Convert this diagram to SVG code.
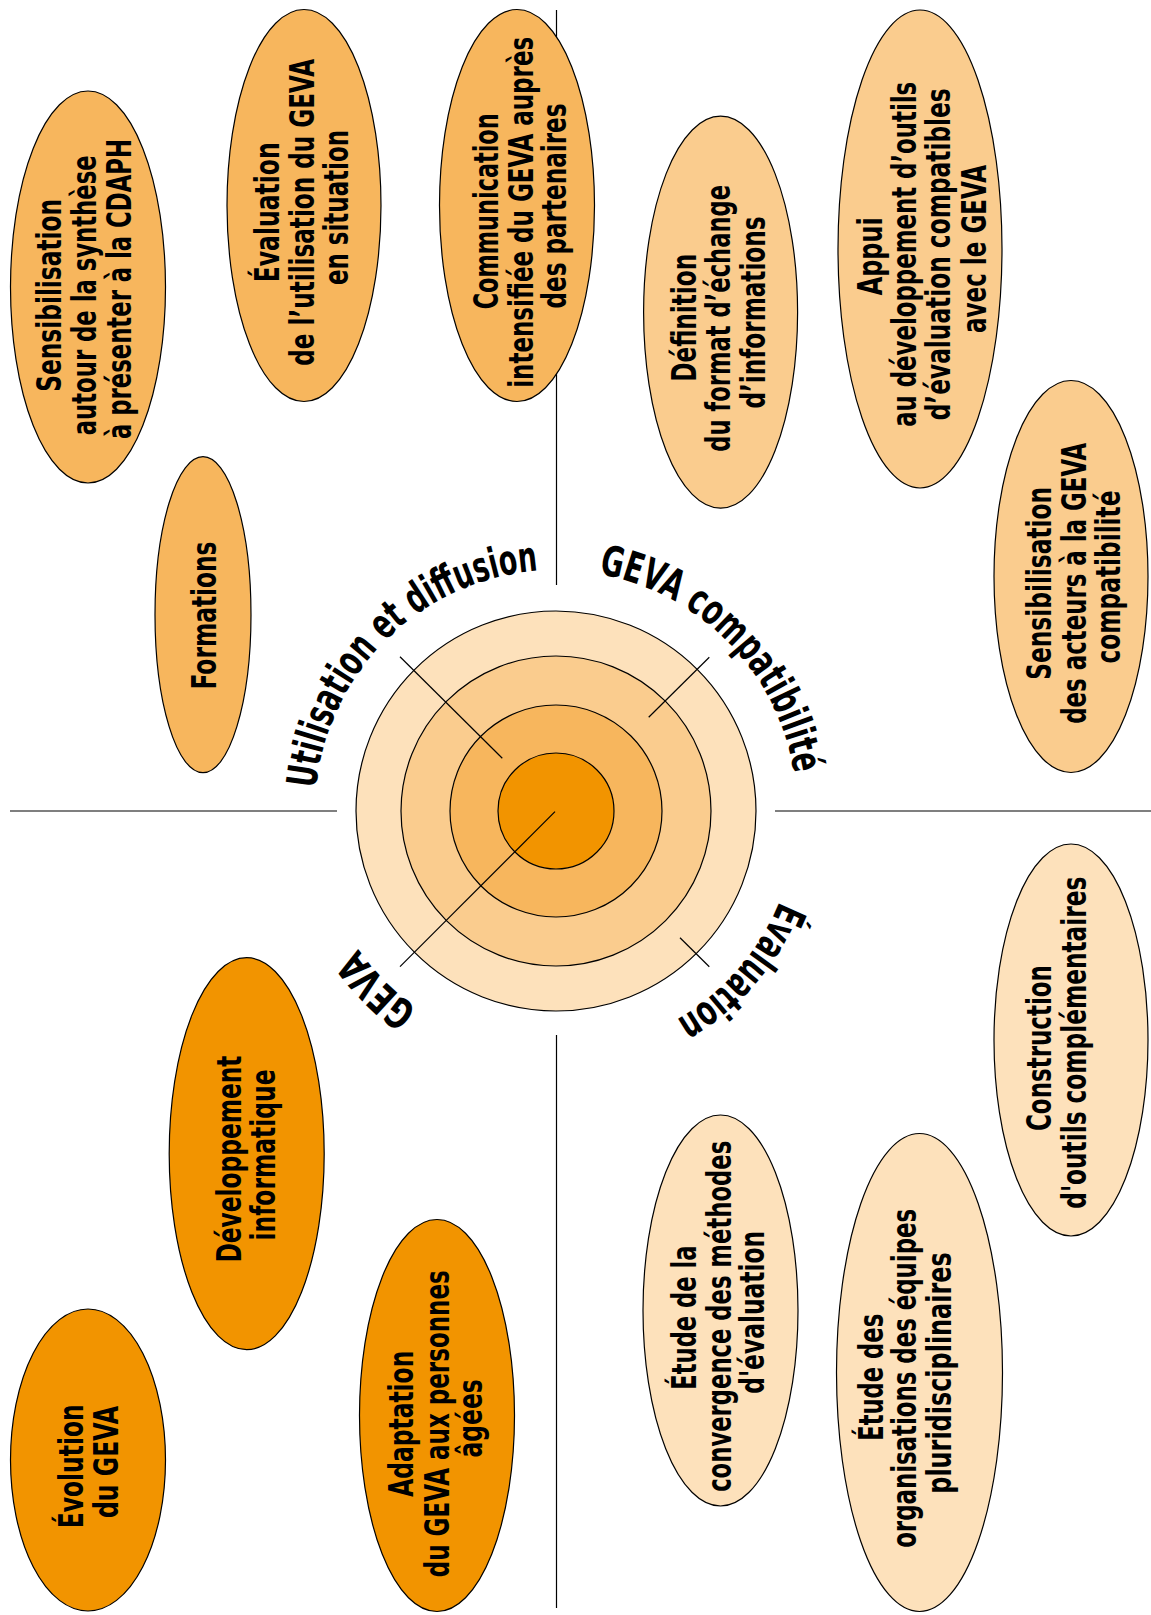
<svg xmlns="http://www.w3.org/2000/svg" width="1151" height="1615" viewBox="0 0 1151 1615">
<style>
.c1{fill:#F29400}.c2{fill:#F7B65D}.c3{fill:#FACC8E}.c4{fill:#FDE1BB}
.n{stroke:#000;stroke-width:1.2}
.ln{stroke:#000;stroke-width:1.2;fill:none}
.t{font-family:'Liberation Sans Narrow','DejaVu Sans Condensed','Liberation Sans',sans-serif;font-weight:bold;font-size:34px;fill:#000;text-anchor:middle}
.a{font-family:'Liberation Sans Narrow','DejaVu Sans Condensed','Liberation Sans',sans-serif;font-weight:bold;font-size:42px;fill:#000;text-anchor:middle}
</style>
<defs>
<path id="ring" d="M 797,811 A 241 241 0 1 1 315,811 A 241 241 0 1 1 797,811"/>
</defs>
<rect width="1151" height="1615" fill="#fff"/>

<g id="target">
<circle class="c4 n" cx="556" cy="811" r="200"/>
<circle class="c3 n" cx="556" cy="811" r="155"/>
<circle class="c2 n" cx="556" cy="811" r="106"/>
<circle class="c1 n" cx="556" cy="811" r="58"/>
</g>

<g id="connectors">
<line class="ln" x1="556.5" y1="10" x2="556.5" y2="585"/>
<line class="ln" x1="556.5" y1="1035" x2="556.5" y2="1608"/>
<line class="ln" x1="10" y1="811" x2="337" y2="811"/>
<line class="ln" x1="775" y1="811" x2="1151" y2="811"/>
<line class="ln" x1="400" y1="656.7" x2="502.3" y2="758.3"/>
<line class="ln" x1="709.3" y1="657.3" x2="648.7" y2="717.3"/>
<line class="ln" x1="400" y1="966.7" x2="555" y2="811.7"/>
<line class="ln" x1="680" y1="937.7" x2="709.3" y2="966.7"/>
</g>

<g id="ring-labels">
<text class="a"><textPath href="#ring" startOffset="172.5" textLength="160" lengthAdjust="spacingAndGlyphs">Évaluation</textPath></text>
<text class="a"><textPath href="#ring" startOffset="567.8" textLength="85" lengthAdjust="spacingAndGlyphs">GEVA</textPath></text>
<text class="a"><textPath href="#ring" startOffset="948.5" textLength="338" lengthAdjust="spacingAndGlyphs">Utilisation et diffusion</textPath></text>
<text class="a"><textPath href="#ring" startOffset="1327" textLength="298" lengthAdjust="spacingAndGlyphs">GEVA compatibilité</textPath></text>
</g>

<g id="node-sensibilisation-cdaph">
<ellipse class="c2 n" cx="88" cy="287" rx="77.5" ry="196"/>
<text class="t" transform="rotate(-90)" lengthAdjust="spacingAndGlyphs">
<tspan x="-290" y="61" textLength="193" lengthAdjust="spacingAndGlyphs">Sensibilisation</tspan>
<tspan x="-290" y="96" textLength="280" lengthAdjust="spacingAndGlyphs">autour de la synthèse</tspan>
<tspan x="-289" y="131" textLength="300" lengthAdjust="spacingAndGlyphs">à présenter à la CDAPH</tspan>
</text>
</g>

<g id="node-evaluation-utilisation">
<ellipse class="c2 n" cx="304" cy="205.5" rx="77" ry="196"/>
<text class="t" transform="rotate(-90)">
<tspan x="-207" y="279" textLength="140" lengthAdjust="spacingAndGlyphs">Évaluation</tspan>
<tspan x="-207" y="314" textLength="307" lengthAdjust="spacingAndGlyphs">de l’utilisation du GEVA</tspan>
<tspan x="-207.5" y="348" textLength="155" lengthAdjust="spacingAndGlyphs">en situation</tspan>
</text>
</g>

<g id="node-communication">
<ellipse class="c2 n" cx="517" cy="205.5" rx="77.5" ry="196"/>
<text class="t" transform="rotate(-90)">
<tspan x="-206" y="498" textLength="196" lengthAdjust="spacingAndGlyphs">Communication</tspan>
<tspan x="-207" y="533" textLength="351" lengthAdjust="spacingAndGlyphs">intensifiée du GEVA auprès</tspan>
<tspan x="-206" y="566" textLength="205" lengthAdjust="spacingAndGlyphs">des partenaires</tspan>
</text>
</g>

<g id="node-formations">
<ellipse class="c2 n" cx="203" cy="614.7" rx="48" ry="158"/>
<text class="t" transform="rotate(-90)">
<tspan x="-615.5" y="216" textLength="148" lengthAdjust="spacingAndGlyphs">Formations</tspan>
</text>
</g>

<g id="node-definition">
<ellipse class="c3 n" cx="720.6" cy="312.2" rx="77" ry="196"/>
<text class="t" transform="rotate(-90)">
<tspan x="-312.5" y="696" textLength="128" lengthAdjust="spacingAndGlyphs">Définition</tspan>
<tspan x="-313" y="730" textLength="267" lengthAdjust="spacingAndGlyphs">du format d’échange</tspan>
<tspan x="-312.5" y="765" textLength="192" lengthAdjust="spacingAndGlyphs">d’informations</tspan>
</text>
</g>

<g id="node-appui">
<ellipse class="c3 n" cx="920" cy="249" rx="82" ry="239"/>
<text class="t" transform="rotate(-90)">
<tspan x="-251" y="882" textLength="78" lengthAdjust="spacingAndGlyphs">Appui</tspan>
<tspan x="-249" y="916" textLength="345" lengthAdjust="spacingAndGlyphs">au développement d’outils</tspan>
<tspan x="-249" y="950" textLength="332" lengthAdjust="spacingAndGlyphs">d’évaluation compatibles</tspan>
<tspan x="-249" y="986" textLength="168" lengthAdjust="spacingAndGlyphs">avec le GEVA</tspan>
</text>
</g>

<g id="node-sensibilisation-acteurs">
<ellipse class="c3 n" cx="1071" cy="576.5" rx="77" ry="196"/>
<text class="t" transform="rotate(-90)">
<tspan x="-578" y="1050.5" textLength="193" lengthAdjust="spacingAndGlyphs">Sensibilisation</tspan>
<tspan x="-578" y="1085.6" textLength="281" lengthAdjust="spacingAndGlyphs">des acteurs à la GEVA</tspan>
<tspan x="-577" y="1120" textLength="173" lengthAdjust="spacingAndGlyphs">compatibilité</tspan>
</text>
</g>

<g id="node-developpement">
<ellipse class="c1 n" cx="246.7" cy="1153.7" rx="77.5" ry="196"/>
<text class="t" transform="rotate(-90)">
<tspan x="-1153.7" y="241" textLength="207" lengthAdjust="spacingAndGlyphs">Développement</tspan>
<tspan x="-1155" y="275" textLength="171" lengthAdjust="spacingAndGlyphs">informatique</tspan>
</text>
</g>

<g id="node-evolution">
<ellipse class="c1 n" cx="88" cy="1460" rx="77.5" ry="151"/>
<text class="t" transform="rotate(-90)">
<tspan x="-1461" y="83.4" textLength="124" lengthAdjust="spacingAndGlyphs">Évolution</tspan>
<tspan x="-1462" y="118" textLength="112" lengthAdjust="spacingAndGlyphs">du GEVA</tspan>
</text>
</g>

<g id="node-adaptation">
<ellipse class="c1 n" cx="437" cy="1415.5" rx="77.5" ry="196"/>
<text class="t" transform="rotate(-90)">
<tspan x="-1418.4" y="413" textLength="146" lengthAdjust="spacingAndGlyphs">Adaptation</tspan>
<tspan x="-1418.4" y="448.5" textLength="307" lengthAdjust="spacingAndGlyphs">du GEVA aux personnes</tspan>
<tspan x="-1418.4" y="482" textLength="78" lengthAdjust="spacingAndGlyphs">âgées</tspan>
</text>
</g>

<g id="node-construction">
<ellipse class="c4 n" cx="1071" cy="1040" rx="77" ry="196"/>
<text class="t" transform="rotate(-90)">
<tspan x="-1042.7" y="1051" textLength="166" lengthAdjust="spacingAndGlyphs">Construction</tspan>
<tspan x="-1042.7" y="1085.6" textLength="332" lengthAdjust="spacingAndGlyphs">d'outils complémentaires</tspan>
</text>
</g>

<g id="node-convergence">
<ellipse class="c4 n" cx="720.5" cy="1310.5" rx="77.5" ry="195.5"/>
<text class="t" transform="rotate(-90)">
<tspan x="-1312.3" y="696" textLength="144" lengthAdjust="spacingAndGlyphs">Étude de la</tspan>
<tspan x="-1311" y="731" textLength="351" lengthAdjust="spacingAndGlyphs">convergence des méthodes</tspan>
<tspan x="-1312.3" y="764" textLength="163" lengthAdjust="spacingAndGlyphs">d'évaluation</tspan>
</text>
</g>

<g id="node-organisations">
<ellipse class="c4 n" cx="919.5" cy="1372.5" rx="83" ry="239"/>
<text class="t" transform="rotate(-90)">
<tspan x="-1372" y="883" textLength="127" lengthAdjust="spacingAndGlyphs">Étude des</tspan>
<tspan x="-1373" y="916" textLength="339" lengthAdjust="spacingAndGlyphs">organisations des équipes</tspan>
<tspan x="-1373" y="951" textLength="241.5" lengthAdjust="spacingAndGlyphs">pluridisciplinaires</tspan>
</text>
</g>
</svg>
